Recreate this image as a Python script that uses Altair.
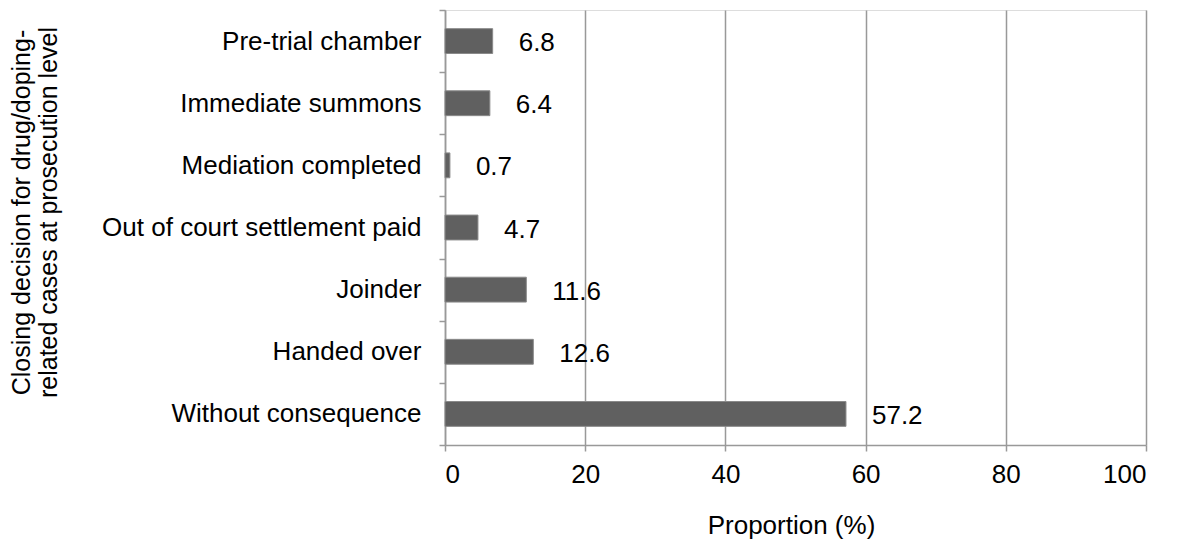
import altair as alt
import pandas as pd

categories = [
    "Pre-trial chamber",
    "Immediate summons",
    "Mediation completed",
    "Out of court settlement paid",
    "Joinder",
    "Handed over",
    "Without consequence",
]
values = [6.8, 6.4, 0.7, 4.7, 11.6, 12.6, 57.2]
labels = ["6.8", "6.4", "0.7", "4.7", "11.6", "12.6", "57.2"]

df = pd.DataFrame({"cat": categories, "val": values, "lab": labels})

FONT = "Liberation Sans"
FS = 26

y_enc = alt.Y(
    "cat:N",
    sort=categories,
    scale=alt.Scale(paddingInner=0, paddingOuter=0),
    axis=alt.Axis(
        title=["Closing decision for drug/doping-", "related cases at prosecution level"],
        titleAngle=-90,
        titleAlign="center",
        titleBaseline="top",
        titleX=-436,
        titleY=202,
        titleLineHeight=27,
        titleFont=FONT,
        titleFontSize=25,
        titleFontWeight="normal",
        titleColor="#000000",
        labelFont=FONT,
        labelFontSize=FS,
        labelColor="#000000",
        labelPadding=18,
        labelLimit=500,
        tickBand="extent",
        tickSize=6,
        tickColor="#999999",
        domainColor="#999999",
        domainWidth=1.5,
        tickWidth=1.5,
    ),
)

x_enc = alt.X(
    "val:Q",
    scale=alt.Scale(domain=[0, 100], nice=False),
    axis=alt.Axis(
        title="Proportion (%)",
        values=[0, 20, 40, 60, 80, 100],
        grid=True,
        gridColor="#999999",
        gridWidth=1.5,
        tickSize=6,
        tickColor="#999999",
        tickWidth=1.5,
        domainColor="#999999",
        domainWidth=1.5,
        labelFont=FONT,
        labelFontSize=FS,
        labelColor="#000000",
        labelPadding=10,
        titleFont=FONT,
        titleFontSize=FS,
        titleFontWeight="normal",
        titleColor="#000000",
        titleX=346,
        titleY=80,
        titleBaseline="middle",
        titleAlign="center",
    ),
)

bars = alt.Chart(df).mark_bar(
    height={"band": 0.4}, color="#606060", stroke="#8a8a8a", strokeWidth=1
).encode(x=x_enc, y=y_enc)

text = alt.Chart(df).mark_text(
    align="left", baseline="middle", dx=26, dy=2, font=FONT, fontSize=FS, color="#000000"
).encode(
    x=alt.X("val:Q"),
    y=alt.Y("cat:N", sort=categories),
    text="lab:N",
)

chart = (
    alt.layer(bars, text)
    .properties(
        width=701,
        height=435,
        autosize=alt.AutoSizeParams(type="none"),
        padding={"left": 437, "top": 2, "right": 22, "bottom": 97},
    )
    .configure_view(stroke=None)
    .configure(background="white")
)

chart.save("out.html", embed_options={"renderer": "svg", "actions": False})
